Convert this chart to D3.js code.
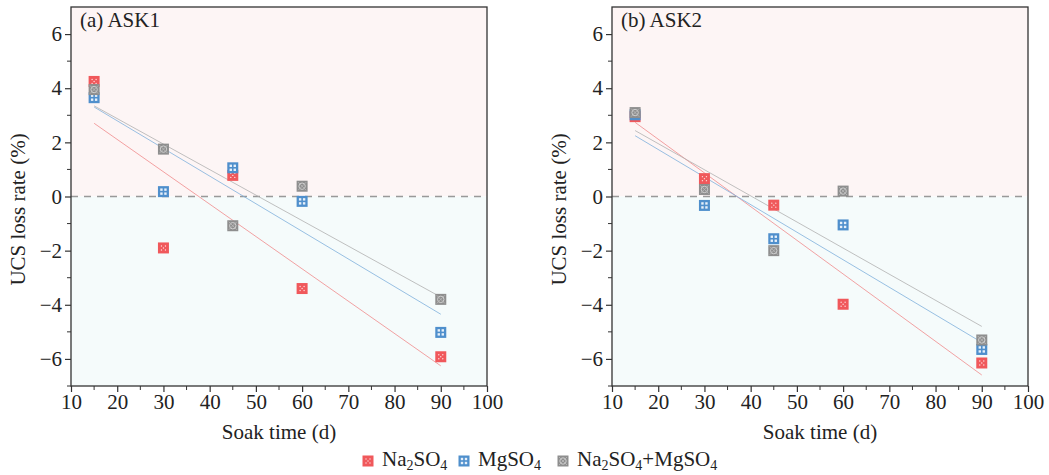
<html>

<head>
<style>
    body { margin: 0; background: #fff; }
    svg text { font-family: "Liberation Serif", "Times New Roman", Times, serif !important; fill: #222; }
</style>
</head>

<body>
    <svg id="chart"></svg>
</body>
<script src="https://cdnjs.cloudflare.com/ajax/libs/d3/7.8.5/d3.min.js"></script>
<script>
    // soak times (d)
    const days = [15, 30, 45, 60, 90];

    // ASK1 loss rates (%)
    const ask1Na = [4.25, -1.9, 0.78, -3.4, -5.92];
    const ask1Mg = [3.65, 0.18, 1.06, -0.18, -5.02];
    const ask1Mix = [3.95, 1.75, -1.08, 0.38, -3.8];

    // ASK2 loss rates (%)
    const ask2Na = [2.95, 0.66, -0.32, -3.98, -6.15];
    const ask2Mg = [3.02, -0.33, -1.56, -1.05, -5.65];
    const ask2Mix = [3.1, 0.26, -2.0, 0.2, -5.3];

    const panelTitles = ["(a) ASK1", "(b) ASK2"];
    const xTicks = [10, 20, 30, 40, 50, 60, 70, 80, 90, 100];
    const yTicks = [-6, -4, -2, 0, 2, 4, 6];

    const series = [
        { name: "Na2SO4", color: "#f0585b", line: "#f08a8c", kind: "na" },
        { name: "MgSO4", color: "#4f8fcc", line: "#7fb0dc", kind: "mg" },
        { name: "Na2SO4+MgSO4", color: "#8e8e8e", line: "#b0b0b0", kind: "mix" }
    ];

    const panels = [
        { title: panelTitles[0], left: 71, values: [ask1Na, ask1Mg, ask1Mix] },
        { title: panelTitles[1], left: 612, values: [ask2Na, ask2Mg, ask2Mix] }
    ];

    const width = 1049, height = 475;
    const plotW = 416, plotTop = 7, plotBottom = 386;
    const serif = '"Liberation Serif", "Times New Roman", serif';

    const svg = d3.select('#chart')
        .attr('width', width)
        .attr('height', height);

    const y = d3.scaleLinear().domain([-7, 7]).range([plotBottom, plotTop]);

    function fit(xs, ys) {
        const mx = d3.mean(xs), my = d3.mean(ys);
        let sxy = 0, sxx = 0;
        xs.forEach((x, i) => { sxy += (x - mx) * (ys[i] - my); sxx += (x - mx) * (x - mx); });
        const b = sxy / sxx;
        return x => my + b * (x - mx);
    }

    function marker(g, kind, color, cx, cy) {
        const s = 11;
        const m = g.append('g').attr('transform', `translate(${cx},${cy})`);
        m.append('rect').attr('x', -s / 2).attr('y', -s / 2).attr('width', s).attr('height', s)
            .attr('fill', color);
        if (kind === 'na') {
            [[-2, -2], [2, -2], [-2, 2], [2, 2], [0, 0]].forEach(p => {
                m.append('circle').attr('cx', p[0]).attr('cy', p[1]).attr('r', 0.7).attr('fill', '#fdd');
            });
        } else if (kind === 'mg') {
            [[-2, -2], [2, -2], [-2, 2], [2, 2]].forEach(p => {
                m.append('rect').attr('x', p[0] - 1.2).attr('y', p[1] - 1.2).attr('width', 2.4).attr('height', 2.4)
                    .attr('fill', '#e6f0fa');
            });
        } else {
            m.append('circle').attr('r', 3.2).attr('fill', 'none').attr('stroke', '#d0d0d0').attr('stroke-width', 1);
            m.append('path').attr('d', 'M-4,-4L4,4M4,-4L-4,4').attr('stroke', '#b8b8b8').attr('stroke-width', 0.9);
        }
    }

    panels.forEach(p => {
        const x = d3.scaleLinear().domain([10, 100]).range([p.left, p.left + plotW]);
        const g = svg.append('g');

        // backgrounds
        g.append('rect').attr('x', x(10)).attr('y', y(7)).attr('width', plotW).attr('height', y(0) - y(7))
            .attr('fill', '#fdf5f5');
        g.append('rect').attr('x', x(10)).attr('y', y(0)).attr('width', plotW).attr('height', y(-7) - y(0))
            .attr('fill', '#f5fbfb');

        // zero line
        g.append('line').attr('x1', x(10)).attr('x2', x(100)).attr('y1', y(0)).attr('y2', y(0))
            .attr('stroke', '#999').attr('stroke-width', 1.5).attr('stroke-dasharray', '7,6');

        // fit lines
        series.forEach((s, i) => {
            const f = fit(days, p.values[i]);
            g.append('line')
                .attr('x1', x(15)).attr('y1', y(f(15)))
                .attr('x2', x(90)).attr('y2', y(f(90)))
                .attr('stroke', s.line).attr('stroke-width', 0.8);
        });

        // points
        series.forEach((s, i) => {
            p.values[i].forEach((v, j) => marker(g, s.kind, s.color, x(days[j]), y(v)));
        });

        // frame
        g.append('rect').attr('x', x(10)).attr('y', y(7)).attr('width', plotW).attr('height', y(-7) - y(7))
            .attr('fill', 'none').attr('stroke', '#333').attr('stroke-width', 1.3);

        // axes
        const xAxis = d3.axisBottom(x).tickValues(xTicks).tickSize(6).tickPadding(2);
        const xg = g.append('g').attr('transform', `translate(0,${plotBottom})`).call(xAxis);
        const xMinor = d3.range(15, 100, 10);
        xg.selectAll('.minor').data(xMinor).enter().append('line').attr('class', 'minor')
            .attr('x1', d => x(d)).attr('x2', d => x(d)).attr('y1', 0).attr('y2', 4).attr('stroke', '#333');

        const yAxis = d3.axisLeft(y).tickValues(yTicks).tickSize(6).tickPadding(3)
            .tickFormat(d => d < 0 ? '\u2212' + Math.abs(d) : d);
        const yg = g.append('g').attr('transform', `translate(${p.left},0)`).call(yAxis);
        const yMinor = [-7, -5, -3, -1, 1, 3, 5];
        yg.selectAll('.minor').data(yMinor).enter().append('line').attr('class', 'minor')
            .attr('y1', d => y(d)).attr('y2', d => y(d)).attr('x1', 0).attr('x2', -4).attr('stroke', '#333');

        [xg, yg].forEach(a => {
            a.attr('font-family', serif);
            a.select('.domain').remove();
            a.selectAll('.tick line').attr('stroke', '#333').attr('stroke-width', 1.2);
            a.selectAll('.tick text').attr('font-size', 21).attr('fill', '#222');
        });

        g.append('text').attr('x', p.left + 9).attr('y', 27).attr('font-size', 21)
            .attr('font-family', serif).text(p.title);

        g.append('text').attr('x', x(55)).attr('y', 439).attr('text-anchor', 'middle')
            .attr('font-family', serif).attr('font-size', 21).text('Soak time (d)');

        g.append('text').attr('transform', `translate(${p.left - 46},${(plotTop + plotBottom) / 2 + 13}) rotate(-90)`)
            .attr('text-anchor', 'middle').attr('font-family', serif).attr('font-size', 21)
            .text('UCS loss rate (%)');
    });

    // legend
    const legend = svg.append('g');
    const legendX = [368, 464, 563];
    series.forEach((s, i) => {
        marker(legend, s.kind, s.color, legendX[i], 461);
        const t = legend.append('text').attr('x', legendX[i] + 14).attr('y', 466)
            .attr('font-family', serif).attr('font-size', 21);
        const parts = s.name.split(/(\d)/).filter(d => d !== '');
        let shift = 0;
        parts.forEach(part => {
            const sub = /\d/.test(part);
            const want = sub ? 4 : 0;
            t.append('tspan').attr('dy', want - shift).attr('font-size', sub ? 14 : 21).text(part);
            shift = want;
        });
    });
</script>

</html>
